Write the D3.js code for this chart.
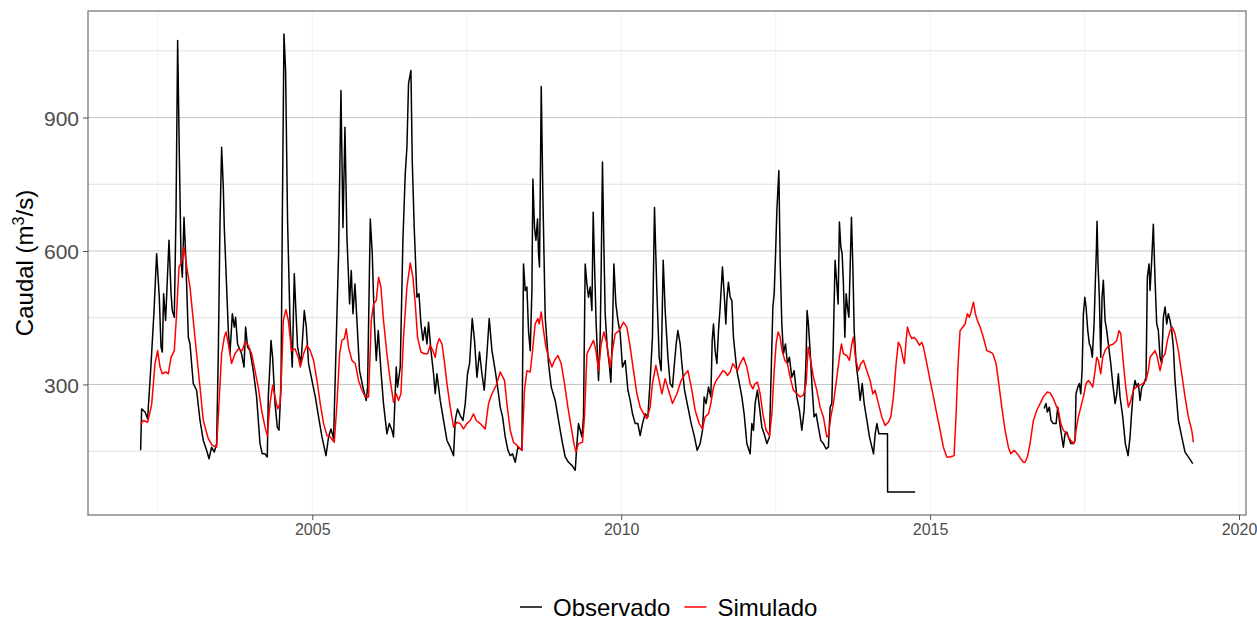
<!DOCTYPE html>
<html>
<head>
<meta charset="utf-8">
<script src="https://cdn.jsdelivr.net/npm/d3@7"></script>
<style>
  body { margin: 0; background: #ffffff; }
  svg { display: block; }
  text { font-family: "Liberation Sans", Arial, sans-serif; }
</style>
</head>
<body>
<svg id="chart" width="1257" height="620"></svg>
<script>
// Daily discharge, observed vs simulated (decimal year, m3/s); null marks the gap in records
const seriesNames = ["Observado", "Simulado"];

const observed = [
  [2002.222,152],[2002.238,245],[2002.293,238],[2002.335,223],[2002.374,309],[2002.400,369],[2002.439,466],[2002.481,594],
  [2002.524,496],[2002.552,384],[2002.573,373],[2002.594,504],[2002.626,444],[2002.649,519],[2002.681,624],[2002.714,504],
  [2002.735,466],[2002.767,451],[2002.795,691],[2002.821,1073],[2002.848,818],[2002.876,579],[2002.897,541],[2002.924,676],
  [2002.950,594],[2002.994,406],[2003.021,391],[2003.074,302],[2003.128,287],[2003.183,219],[2003.236,174],[2003.290,152],
  [2003.329,133],[2003.371,159],[2003.414,148],[2003.452,167],[2003.479,369],[2003.507,668],[2003.533,833],[2003.560,743],
  [2003.576,653],[2003.597,579],[2003.641,421],[2003.668,369],[2003.706,459],[2003.738,429],[2003.759,451],[2003.791,391],
  [2003.856,369],[2003.895,339],[2003.921,429],[2003.953,384],[2003.992,376],[2004.045,331],[2004.099,272],[2004.154,167],
  [2004.191,144],[2004.235,144],[2004.272,137],[2004.288,272],[2004.316,347],[2004.332,399],[2004.358,361],[2004.397,257],
  [2004.434,204],[2004.461,197],[2004.494,294],[2004.515,669],[2004.542,1088],[2004.568,1006],[2004.600,669],[2004.639,444],
  [2004.676,339],[2004.709,549],[2004.730,481],[2004.762,384],[2004.817,347],[2004.871,466],[2004.903,429],[2004.940,347],
  [2004.995,309],[2005.049,272],[2005.102,227],[2005.157,182],[2005.222,140],[2005.264,182],[2005.303,200],[2005.345,178],
  [2005.388,399],[2005.426,594],[2005.464,961],[2005.497,653],[2005.529,878],[2005.561,631],[2005.604,481],[2005.631,556],
  [2005.659,459],[2005.691,526],[2005.723,444],[2005.765,331],[2005.820,294],[2005.874,264],[2005.895,294],[2005.939,672],
  [2005.971,594],[2006.003,444],[2006.036,354],[2006.068,421],[2006.111,331],[2006.153,257],[2006.208,189],[2006.246,212],
  [2006.289,197],[2006.315,182],[2006.359,339],[2006.380,294],[2006.424,339],[2006.467,624],[2006.505,774],[2006.532,833],
  [2006.558,976],[2006.597,1006],[2006.618,804],[2006.650,653],[2006.694,496],[2006.727,504],[2006.759,436],[2006.791,399],
  [2006.824,429],[2006.856,391],[2006.882,440],[2006.921,376],[2006.963,324],[2006.990,279],[2007.018,324],[2007.071,264],
  [2007.125,219],[2007.180,174],[2007.233,159],[2007.287,140],[2007.314,219],[2007.351,245],[2007.395,230],[2007.439,219],
  [2007.476,257],[2007.513,324],[2007.546,347],[2007.589,448],[2007.626,399],[2007.665,316],[2007.707,373],[2007.746,324],
  [2007.783,287],[2007.827,369],[2007.864,448],[2007.908,376],[2007.961,331],[2008.015,279],[2008.042,249],[2008.080,227],
  [2008.123,182],[2008.167,152],[2008.204,140],[2008.241,144],[2008.285,125],[2008.328,159],[2008.393,152],[2008.419,571],
  [2008.447,511],[2008.474,519],[2008.500,421],[2008.528,376],[2008.555,511],[2008.571,762],[2008.597,653],[2008.620,624],
  [2008.646,672],[2008.662,594],[2008.678,564],[2008.706,970],[2008.733,721],[2008.770,451],[2008.824,347],[2008.868,294],
  [2008.932,264],[2008.986,219],[2009.041,174],[2009.094,137],[2009.148,125],[2009.203,118],[2009.256,107],[2009.284,167],
  [2009.309,212],[2009.337,197],[2009.364,182],[2009.390,227],[2009.417,571],[2009.445,526],[2009.471,496],[2009.498,519],
  [2009.526,466],[2009.547,687],[2009.568,571],[2009.595,436],[2009.633,309],[2009.660,406],[2009.676,556],[2009.697,800],
  [2009.720,609],[2009.741,459],[2009.773,384],[2009.806,347],[2009.833,305],[2009.859,421],[2009.882,571],[2009.914,481],
  [2009.947,444],[2009.984,414],[2010.021,339],[2010.065,354],[2010.109,287],[2010.146,264],[2010.183,234],[2010.227,212],
  [2010.270,212],[2010.307,185],[2010.345,212],[2010.388,234],[2010.432,227],[2010.469,309],[2010.506,406],[2010.539,698],
  [2010.577,511],[2010.615,361],[2010.647,331],[2010.680,579],[2010.712,466],[2010.756,361],[2010.793,302],[2010.830,294],
  [2010.862,347],[2010.890,391],[2010.917,421],[2010.955,391],[2010.982,347],[2011.025,287],[2011.080,249],[2011.133,212],
  [2011.186,182],[2011.230,152],[2011.278,167],[2011.316,197],[2011.343,272],[2011.375,257],[2011.413,294],[2011.451,272],
  [2011.473,399],[2011.494,436],[2011.521,376],[2011.549,347],[2011.575,421],[2011.602,474],[2011.639,564],[2011.667,504],
  [2011.694,436],[2011.710,489],[2011.736,530],[2011.764,496],[2011.791,489],[2011.817,406],[2011.872,331],[2011.914,302],
  [2011.953,272],[2011.990,234],[2012.034,167],[2012.087,144],[2012.115,212],[2012.141,197],[2012.168,257],[2012.205,287],
  [2012.238,249],[2012.277,204],[2012.314,189],[2012.358,167],[2012.400,182],[2012.423,302],[2012.455,474],[2012.476,504],
  [2012.497,586],[2012.520,691],[2012.536,736],[2012.552,781],[2012.573,579],[2012.600,436],[2012.626,369],[2012.659,391],
  [2012.691,347],[2012.723,361],[2012.762,316],[2012.799,331],[2012.843,272],[2012.885,242],[2012.924,197],[2012.961,242],
  [2012.993,361],[2013.009,466],[2013.030,436],[2013.058,376],[2013.090,294],[2013.122,227],[2013.155,234],[2013.192,204],
  [2013.231,174],[2013.273,167],[2013.317,155],[2013.354,159],[2013.382,249],[2013.409,257],[2013.435,406],[2013.462,579],
  [2013.490,526],[2013.511,481],[2013.532,665],[2013.555,609],[2013.576,594],[2013.597,526],[2013.620,406],[2013.641,504],
  [2013.662,474],[2013.685,451],[2013.706,564],[2013.727,676],[2013.750,564],[2013.771,421],[2013.803,347],[2013.841,302],
  [2013.868,264],[2013.901,302],[2013.933,257],[2013.977,219],[2014.019,182],[2014.058,159],[2014.084,144],[2014.111,189],
  [2014.139,212],[2014.171,189],[2014.310,189],[2014.312,58],[2014.758,58],
  [2015.800,null],
  [2016.845,246],[2016.877,257],[2016.898,238],[2016.930,249],[2016.958,219],[2016.995,212],[2017.039,212],[2017.066,249],
  [2017.092,219],[2017.131,182],[2017.157,159],[2017.184,189],[2017.212,193],[2017.238,182],[2017.277,167],[2017.319,167],
  [2017.346,174],[2017.362,279],[2017.390,294],[2017.416,302],[2017.438,279],[2017.460,331],[2017.481,459],[2017.504,496],
  [2017.524,474],[2017.552,421],[2017.578,391],[2017.600,384],[2017.626,361],[2017.654,436],[2017.675,534],[2017.691,601],
  [2017.702,667],[2017.718,571],[2017.739,496],[2017.762,361],[2017.783,496],[2017.804,534],[2017.832,444],[2017.859,421],
  [2017.885,391],[2017.924,347],[2017.956,302],[2017.994,257],[2018.021,279],[2018.047,324],[2018.074,272],[2018.118,227],
  [2018.160,167],[2018.204,140],[2018.236,182],[2018.257,227],[2018.290,287],[2018.317,309],[2018.345,294],[2018.371,302],
  [2018.398,264],[2018.426,294],[2018.463,302],[2018.495,316],[2018.516,541],[2018.544,571],[2018.560,511],[2018.587,579],
  [2018.613,660],[2018.641,534],[2018.668,436],[2018.694,421],[2018.722,361],[2018.749,347],[2018.775,451],[2018.803,474],
  [2018.830,436],[2018.856,459],[2018.883,444],[2018.911,421],[2018.937,384],[2018.964,309],[2019.018,219],[2019.073,182],
  [2019.126,148],[2019.180,137],[2019.251,122]
];

const simulated = [
  [2002.222,210],[2002.265,219],[2002.335,215],[2002.400,254],[2002.455,347],[2002.497,376],[2002.536,339],[2002.573,324],
  [2002.626,328],[2002.670,324],[2002.714,361],[2002.767,376],[2002.804,459],[2002.843,564],[2002.885,575],[2002.924,609],
  [2002.966,566],[2003.021,519],[2003.074,444],[2003.128,369],[2003.183,294],[2003.236,219],[2003.317,178],[2003.382,163],
  [2003.452,159],[2003.490,257],[2003.533,369],[2003.576,406],[2003.604,418],[2003.641,391],[2003.694,347],[2003.749,369],
  [2003.803,380],[2003.867,376],[2003.911,395],[2003.964,388],[2004.018,369],[2004.073,331],[2004.126,294],[2004.180,242],
  [2004.235,204],[2004.272,185],[2004.316,257],[2004.358,298],[2004.397,272],[2004.439,245],[2004.478,257],[2004.504,331],
  [2004.531,444],[2004.574,468],[2004.612,444],[2004.665,376],[2004.720,380],[2004.773,361],[2004.806,339],[2004.859,369],
  [2004.914,388],[2004.968,376],[2005.021,354],[2005.076,309],[2005.129,257],[2005.183,212],[2005.238,185],[2005.291,182],
  [2005.356,170],[2005.400,257],[2005.442,369],[2005.481,399],[2005.518,403],[2005.550,425],[2005.587,384],[2005.642,354],
  [2005.696,347],[2005.749,309],[2005.804,287],[2005.858,272],[2005.911,272],[2005.955,444],[2005.992,481],[2006.036,489],
  [2006.073,541],[2006.111,519],[2006.153,444],[2006.208,369],[2006.262,309],[2006.315,260],[2006.359,279],[2006.396,264],
  [2006.435,279],[2006.477,406],[2006.532,519],[2006.586,573],[2006.629,541],[2006.667,481],[2006.704,406],[2006.759,373],
  [2006.812,369],[2006.866,369],[2006.909,388],[2006.953,376],[2006.990,361],[2007.018,388],[2007.055,403],[2007.099,391],
  [2007.136,354],[2007.180,302],[2007.233,249],[2007.287,204],[2007.342,215],[2007.395,212],[2007.448,200],[2007.503,212],
  [2007.557,219],[2007.610,234],[2007.654,219],[2007.718,212],[2007.799,200],[2007.853,257],[2007.908,279],[2007.977,298],
  [2008.042,328],[2008.112,309],[2008.150,257],[2008.204,197],[2008.257,170],[2008.312,163],[2008.393,152],[2008.435,287],
  [2008.474,331],[2008.528,328],[2008.565,376],[2008.608,436],[2008.652,448],[2008.673,436],[2008.706,463],[2008.743,421],
  [2008.782,384],[2008.824,361],[2008.879,339],[2008.921,354],[2008.976,365],[2009.029,347],[2009.083,302],[2009.137,249],
  [2009.191,204],[2009.235,167],[2009.267,148],[2009.309,167],[2009.374,170],[2009.406,227],[2009.445,369],[2009.498,384],
  [2009.552,399],[2009.591,376],[2009.633,331],[2009.676,391],[2009.720,418],[2009.769,391],[2009.822,339],[2009.859,376],
  [2009.903,414],[2009.968,421],[2010.037,440],[2010.092,429],[2010.146,384],[2010.199,331],[2010.254,279],[2010.307,249],
  [2010.361,234],[2010.416,223],[2010.469,249],[2010.506,302],[2010.561,343],[2010.604,316],[2010.659,279],[2010.712,313],
  [2010.766,287],[2010.830,257],[2010.901,279],[2010.971,309],[2011.036,324],[2011.080,331],[2011.144,287],[2011.197,242],
  [2011.262,212],[2011.316,200],[2011.359,227],[2011.413,234],[2011.451,257],[2011.494,294],[2011.537,309],[2011.575,316],
  [2011.614,324],[2011.646,331],[2011.683,328],[2011.720,320],[2011.764,328],[2011.808,347],[2011.845,339],[2011.882,331],
  [2011.926,347],[2011.980,361],[2012.034,339],[2012.087,302],[2012.131,290],[2012.168,302],[2012.205,305],[2012.249,279],
  [2012.293,234],[2012.346,197],[2012.400,185],[2012.439,234],[2012.476,331],[2012.508,391],[2012.540,418],[2012.573,406],
  [2012.605,376],[2012.649,354],[2012.691,347],[2012.735,316],[2012.788,287],[2012.843,279],[2012.896,272],[2012.950,276],
  [2012.994,302],[2013.026,384],[2013.058,361],[2013.112,316],[2013.166,287],[2013.220,249],[2013.273,227],[2013.328,182],
  [2013.354,185],[2013.393,227],[2013.435,257],[2013.490,316],[2013.532,361],[2013.565,391],[2013.597,369],[2013.652,365],
  [2013.694,354],[2013.733,391],[2013.759,406],[2013.791,361],[2013.840,331],[2013.879,347],[2013.922,354],[2013.976,331],
  [2014.029,309],[2014.073,279],[2014.110,287],[2014.164,257],[2014.218,227],[2014.272,208],[2014.325,215],[2014.364,227],
  [2014.406,272],[2014.450,347],[2014.487,395],[2014.526,384],[2014.558,361],[2014.584,347],[2014.612,399],[2014.633,429],
  [2014.665,414],[2014.704,403],[2014.741,406],[2014.785,399],[2014.827,388],[2014.866,395],[2014.892,384],[2014.947,347],
  [2015.000,309],[2015.054,272],[2015.108,234],[2015.162,197],[2015.215,159],[2015.270,137],[2015.324,137],[2015.388,140],
  [2015.421,234],[2015.453,347],[2015.485,421],[2015.529,429],[2015.566,436],[2015.604,459],[2015.636,451],[2015.668,466],
  [2015.701,485],[2015.733,459],[2015.765,444],[2015.809,429],[2015.862,406],[2015.917,376],[2015.971,373],[2016.015,369],
  [2016.068,347],[2016.105,309],[2016.160,249],[2016.214,197],[2016.267,159],[2016.306,144],[2016.359,152],[2016.413,144],
  [2016.468,133],[2016.510,125],[2016.537,125],[2016.575,137],[2016.618,167],[2016.672,219],[2016.727,242],[2016.780,257],
  [2016.833,272],[2016.898,283],[2016.942,281],[2016.995,268],[2017.050,249],[2017.076,242],[2017.115,212],[2017.157,197],
  [2017.212,189],[2017.265,176],[2017.319,167],[2017.346,174],[2017.362,197],[2017.400,227],[2017.439,249],[2017.481,272],
  [2017.524,302],[2017.562,309],[2017.600,302],[2017.633,294],[2017.670,331],[2017.697,361],[2017.723,354],[2017.762,324],
  [2017.794,361],[2017.832,376],[2017.869,384],[2017.913,388],[2017.966,391],[2018.021,399],[2018.058,421],[2018.086,414],
  [2018.128,347],[2018.172,287],[2018.209,249],[2018.248,264],[2018.290,287],[2018.333,294],[2018.386,298],[2018.441,302],
  [2018.495,309],[2018.532,331],[2018.560,361],[2018.603,369],[2018.641,376],[2018.678,361],[2018.722,331],[2018.766,361],
  [2018.803,369],[2018.841,399],[2018.883,421],[2018.921,429],[2018.964,414],[2019.018,376],[2019.073,324],[2019.126,272],
  [2019.180,227],[2019.235,197],[2019.261,170]
];

const yMajorTicks = [300, 600, 900];
const yMinorTicks = [150, 450, 750, 1050];
const xMajorTicks = [2005, 2010, 2015, 2020];
const xMinorTicks = [2002.5, 2007.5, 2012.5, 2017.5];

// ---- layout ----
const svg = d3.select("#chart");
const panel = { left: 88, right: 1246, top: 11, bottom: 515 };
const seriesColor = d3.scaleOrdinal().domain(seriesNames).range(["#000000", "#ff0000"]);

// scales padded 5% beyond the data range on each side
const valid = observed.concat(simulated).filter(d => d[1] != null);
const [t0, t1] = d3.extent(valid, d => d[0]);
const [v0, v1] = d3.extent(valid, d => d[1]);
const tPad = (t1 - t0) * 0.05, vPad = (v1 - v0) * 0.05;
const x = d3.scaleLinear().domain([t0 - tPad, t1 + tPad]).range([panel.left, panel.right]);
const y = d3.scaleLinear().domain([v0 - vPad, v1 + vPad]).range([panel.bottom, panel.top]);

// ---- grid ----
const grid = svg.append("g");
grid.selectAll(".vgrid").data(xMinorTicks.concat(xMajorTicks)).join("line")
  .attr("x1", d => x(d)).attr("x2", d => x(d))
  .attr("y1", panel.top).attr("y2", panel.bottom)
  .attr("stroke", "#f2f2f2").attr("stroke-width", 1);
grid.selectAll(".hminor").data(yMinorTicks).join("line")
  .attr("x1", panel.left).attr("x2", panel.right)
  .attr("y1", d => y(d)).attr("y2", d => y(d))
  .attr("stroke", "#e0e0e0").attr("stroke-width", 1);
grid.selectAll(".hmajor").data(yMajorTicks).join("line")
  .attr("x1", panel.left).attr("x2", panel.right)
  .attr("y1", d => y(d)).attr("y2", d => y(d))
  .attr("stroke", "#c4c4c4").attr("stroke-width", 1);

// ---- series ----
svg.append("clipPath").attr("id", "panel-clip").append("rect")
  .attr("x", panel.left).attr("y", panel.top)
  .attr("width", panel.right - panel.left).attr("height", panel.bottom - panel.top);

const line = d3.line()
  .defined(d => d[1] != null)
  .x(d => x(d[0]))
  .y(d => y(d[1]));

const plot = svg.append("g").attr("clip-path", "url(#panel-clip)");
[[seriesNames[0], observed], [seriesNames[1], simulated]].forEach(([name, data]) => {
  plot.append("path")
    .datum(data)
    .attr("d", line)
    .attr("fill", "none")
    .attr("stroke", seriesColor(name))
    .attr("stroke-width", 1.5)
    .attr("stroke-linejoin", "round");
});

// ---- panel border ----
svg.append("rect")
  .attr("x", panel.left).attr("y", panel.top)
  .attr("width", panel.right - panel.left).attr("height", panel.bottom - panel.top)
  .attr("fill", "none").attr("stroke", "#7a7a7a").attr("stroke-width", 1.3);

// ---- axes ----
const yAxis = d3.axisLeft(y).tickValues(yMajorTicks).tickSize(5).tickPadding(4);
const gy = svg.append("g").attr("transform", `translate(${panel.left},0)`).call(yAxis);
gy.select(".domain").remove();
gy.selectAll(".tick line").attr("stroke", "#555555");
gy.selectAll(".tick text").attr("fill", "#4d4d4d").style("font-size", "21px")
  .attr("dy", "0.36em");

const xAxis = d3.axisBottom(x).tickValues(xMajorTicks).tickFormat(d3.format("d")).tickSize(5).tickPadding(4);
const gx = svg.append("g").attr("transform", `translate(0,${panel.bottom})`).call(xAxis);
gx.select(".domain").remove();
gx.selectAll(".tick line").attr("stroke", "#555555");
gx.selectAll(".tick text").attr("fill", "#4d4d4d").style("font-size", "16px");

// ---- y title ----
const yTitle = svg.append("text")
  .attr("transform", `translate(33,${(panel.top + panel.bottom) / 2}) rotate(-90)`)
  .attr("text-anchor", "middle")
  .attr("fill", "#000")
  .style("font-size", "24px");
yTitle.append("tspan").text("Caudal (m");
yTitle.append("tspan").text("3").style("font-size", "16px").attr("dy", "-9");
yTitle.append("tspan").text("/s)").attr("dy", "9");

// ---- legend ----
const legend = svg.append("g").attr("transform", "translate(520,607)");
let lx = 0;
seriesNames.forEach(name => {
  legend.append("line")
    .attr("x1", lx).attr("x2", lx + 22).attr("y1", 0).attr("y2", 0)
    .attr("stroke", seriesColor(name)).attr("stroke-width", 1.5);
  const t = legend.append("text")
    .attr("x", lx + 33).attr("y", 8.5)
    .attr("fill", "#000").style("font-size", "24px")
    .text(name);
  lx += 33 + t.node().getComputedTextLength() + 14;
});
</script>
</body>
</html>
